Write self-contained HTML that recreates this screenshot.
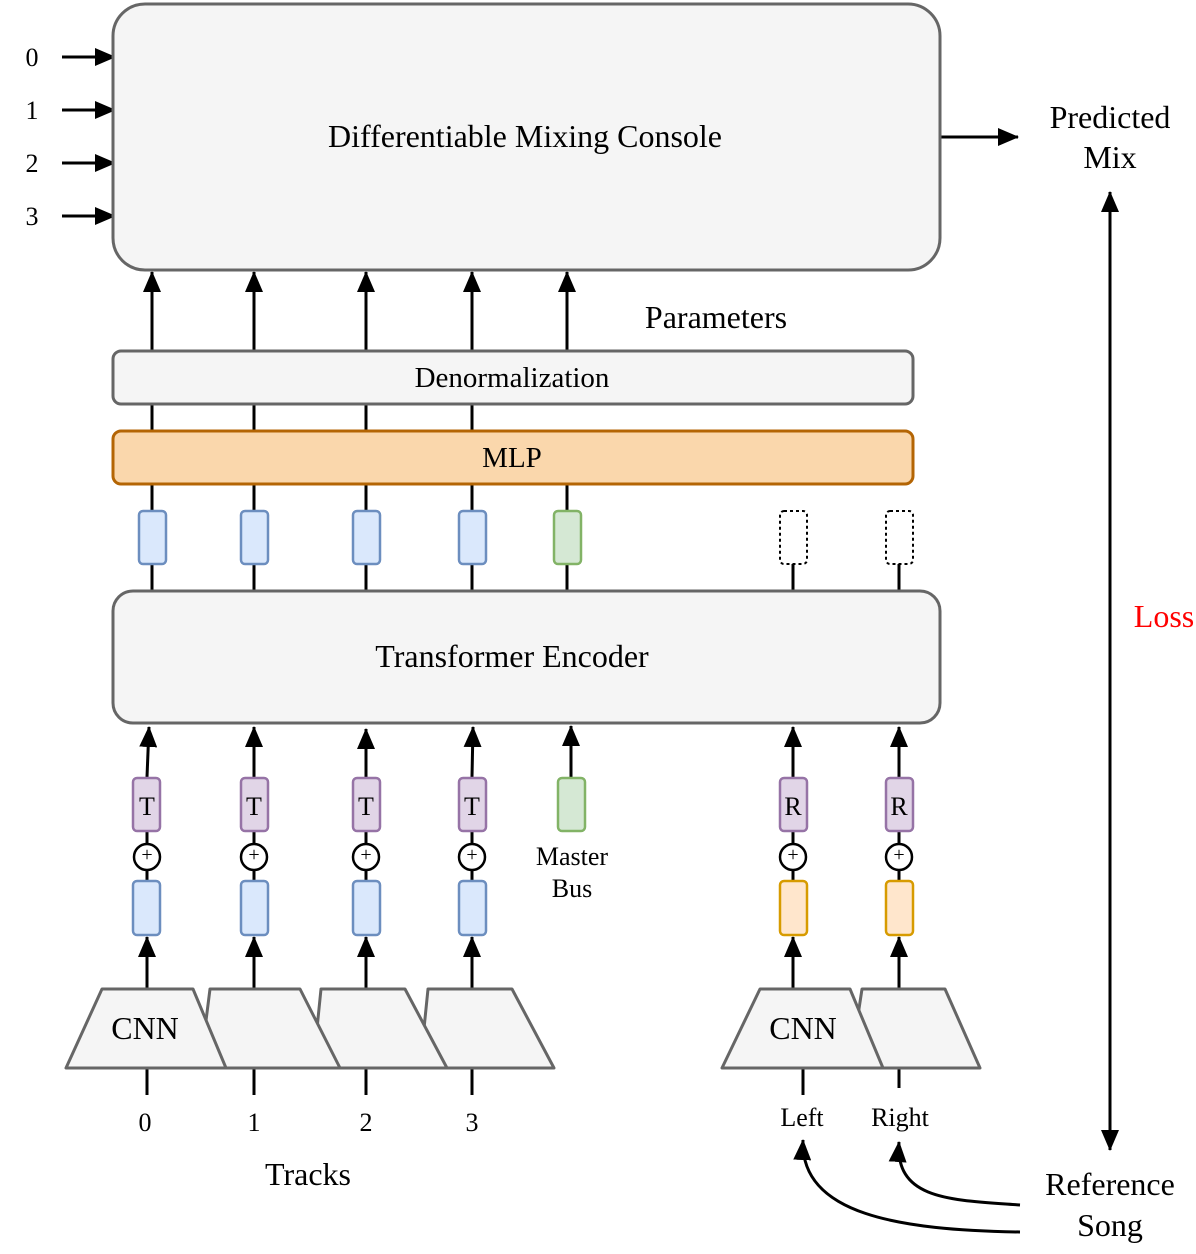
<!DOCTYPE html>
<html><head><style>body{margin:0;background:#fff}</style></head><body>
<svg width="1196" height="1249" xmlns="http://www.w3.org/2000/svg" font-family="Liberation Serif, serif">
<defs>
<marker id="b" markerWidth="22" markerHeight="18" refX="20" refY="9" orient="auto" markerUnits="userSpaceOnUse"><path d="M0,0L21,9L0,18z" fill="#000"/></marker></defs>
<g stroke="#000" stroke-width="3" fill="none" marker-end="url(#b)">
<line x1="62" y1="57" x2="115" y2="57"/><line x1="62" y1="110" x2="115" y2="110"/><line x1="62" y1="163" x2="115" y2="163"/><line x1="62" y1="216" x2="115" y2="216"/>
<line x1="940" y1="137" x2="1018" y2="137"/>
<line x1="1110" y1="680" x2="1110" y2="192"/><line x1="1110" y1="600" x2="1110" y2="1150"/>
<line x1="152" y1="350" x2="152" y2="272"/><line x1="254" y1="350" x2="254" y2="272"/><line x1="366" y1="350" x2="366" y2="272"/><line x1="472" y1="350" x2="472" y2="272"/><line x1="567" y1="350" x2="567" y2="272"/>
<line x1="147" y1="777" x2="149" y2="727"/><line x1="254" y1="777" x2="254" y2="727"/><line x1="366" y1="777" x2="366" y2="729"/><line x1="472" y1="777" x2="473" y2="727"/><line x1="571" y1="777" x2="571" y2="726"/><line x1="793" y1="777" x2="793" y2="727"/><line x1="899" y1="777" x2="899" y2="727"/>
<line x1="147" y1="989" x2="147" y2="937"/><line x1="254" y1="989" x2="254" y2="937"/><line x1="366" y1="989" x2="366" y2="937"/><line x1="472" y1="989" x2="472" y2="937"/><line x1="793" y1="989" x2="793" y2="937"/><line x1="899" y1="989" x2="899" y2="937"/>
<path d="M1020,1232 C900,1230 800,1215 803,1140"/><path d="M1020,1205 C950,1200 895,1200 899,1142"/>
</g>
<g stroke="#000" stroke-width="3">
<line x1="152" y1="404" x2="152" y2="431"/><line x1="254" y1="404" x2="254" y2="431"/><line x1="366" y1="404" x2="366" y2="431"/><line x1="472" y1="404" x2="472" y2="431"/>
<line x1="152" y1="484" x2="152" y2="591"/><line x1="254" y1="484" x2="254" y2="591"/><line x1="366" y1="484" x2="366" y2="591"/><line x1="472" y1="484" x2="472" y2="591"/><line x1="567" y1="484" x2="567" y2="591"/>
<line x1="793" y1="564" x2="793" y2="591"/><line x1="899" y1="564" x2="899" y2="591"/>
<line x1="147" y1="831" x2="147" y2="881"/><line x1="254" y1="831" x2="254" y2="881"/><line x1="366" y1="831" x2="366" y2="881"/><line x1="472" y1="831" x2="472" y2="881"/><line x1="793" y1="831" x2="793" y2="881"/><line x1="899" y1="831" x2="899" y2="881"/>
<line x1="147" y1="1068" x2="147" y2="1095"/><line x1="254" y1="1068" x2="254" y2="1095"/><line x1="366" y1="1068" x2="366" y2="1095"/><line x1="472" y1="1068" x2="472" y2="1095"/><line x1="803" y1="1068" x2="803" y2="1095"/><line x1="899" y1="1068" x2="899" y2="1088"/>
</g>
<g stroke="#666" stroke-width="3" fill="#f5f5f5">
<rect x="113" y="4" width="827" height="266" rx="32"/>
<rect x="113" y="351" width="800" height="53" rx="8"/>
<rect x="113" y="591" width="827" height="132" rx="20"/>
</g>
<rect x="113" y="431" width="800" height="53" rx="8" fill="#fad7ac" stroke="#b46504" stroke-width="3"/>
<g stroke="#6c8ebf" stroke-width="2.5" fill="#dae8fc">
<rect x="139" y="511" width="27" height="53" rx="4"/><rect x="241" y="511" width="27" height="53" rx="4"/><rect x="353" y="511" width="27" height="53" rx="4"/><rect x="459" y="511" width="27" height="53" rx="4"/>
<rect x="133" y="881" width="27" height="54" rx="4"/><rect x="241" y="881" width="27" height="54" rx="4"/><rect x="353" y="881" width="27" height="54" rx="4"/><rect x="459" y="881" width="27" height="54" rx="4"/>
</g>
<g stroke="#82b366" stroke-width="2.5" fill="#d5e8d4"><rect x="554" y="511" width="27" height="53" rx="4"/><rect x="558" y="778" width="27" height="53" rx="4"/></g>
<g stroke="#000" stroke-width="2" fill="none" stroke-dasharray="3,3"><rect x="780" y="511" width="27" height="53" rx="4"/><rect x="886" y="511" width="27" height="53" rx="4"/></g>
<g stroke="#9673a6" stroke-width="2.5" fill="#e1d5e7">
<rect x="133" y="778" width="27" height="53" rx="4"/><rect x="241" y="778" width="27" height="53" rx="4"/><rect x="353" y="778" width="27" height="53" rx="4"/><rect x="459" y="778" width="27" height="53" rx="4"/><rect x="780" y="778" width="27" height="53" rx="4"/><rect x="886" y="778" width="27" height="53" rx="4"/>
</g>
<g stroke="#d79b00" stroke-width="2.5" fill="#ffe6cc"><rect x="780" y="881" width="27" height="54" rx="4"/><rect x="886" y="881" width="27" height="54" rx="4"/></g>
<g stroke="#000" stroke-width="2.5" fill="#fff">
<circle cx="147" cy="857" r="13"/><circle cx="254" cy="857" r="13"/><circle cx="366" cy="857" r="13"/><circle cx="472" cy="857" r="13"/><circle cx="793" cy="857" r="13"/><circle cx="899" cy="857" r="13"/>
</g>
<g font-size="20" text-anchor="middle" fill="#000"><text x="147" y="861">+</text><text x="254" y="861">+</text><text x="366" y="861">+</text><text x="472" y="861">+</text><text x="793" y="861">+</text><text x="899" y="861">+</text></g>
<g stroke="#666" stroke-width="3" fill="#f5f5f5" stroke-linejoin="round">
<path d="M420,1068 L447,1068 L554,1068 L512,989 L428,989 Z"/>
<path d="M313,1068 L447,1068 L405,989 L321,989 Z"/>
<path d="M200,1068 L340,1068 L300,989 L210,989 Z"/>
<path d="M66,1068 L226,1068 L193,989 L102,989 Z"/>
<path d="M850,1068 L980,1068 L945,989 L862,989 Z"/>
<path d="M722,1068 L883,1068 L850,989 L760,989 Z"/>
</g>
<g font-size="26" text-anchor="middle" fill="#000">
<text x="147" y="815">T</text><text x="254" y="815">T</text><text x="366" y="815">T</text><text x="472" y="815">T</text><text x="793" y="815">R</text><text x="899" y="815">R</text>
<text x="32" y="66">0</text><text x="32" y="119">1</text><text x="32" y="172">2</text><text x="32" y="225">3</text>
<text x="145" y="1131">0</text><text x="254" y="1131">1</text><text x="366" y="1131">2</text><text x="472" y="1131">3</text>
<text x="572" y="865">Master</text><text x="572" y="897">Bus</text>
<text x="802" y="1126">Left</text><text x="900" y="1126">Right</text>
</g>
<g font-size="32" text-anchor="middle" fill="#000">
<text x="525" y="147">Differentiable Mixing Console</text>
<text x="716" y="328">Parameters</text>
<text x="512" y="387" font-size="29">Denormalization</text>
<text x="512" y="467" font-size="29">MLP</text>
<text x="512" y="667">Transformer Encoder</text>
<text x="145" y="1039">CNN</text><text x="803" y="1039">CNN</text>
<text x="308" y="1185">Tracks</text>
<text x="1110" y="128">Predicted</text><text x="1110" y="168">Mix</text>
<text x="1164" y="627" fill="#f00">Loss</text>
<text x="1110" y="1195">Reference</text><text x="1110" y="1236">Song</text>
</g>
</svg>
</body></html>
